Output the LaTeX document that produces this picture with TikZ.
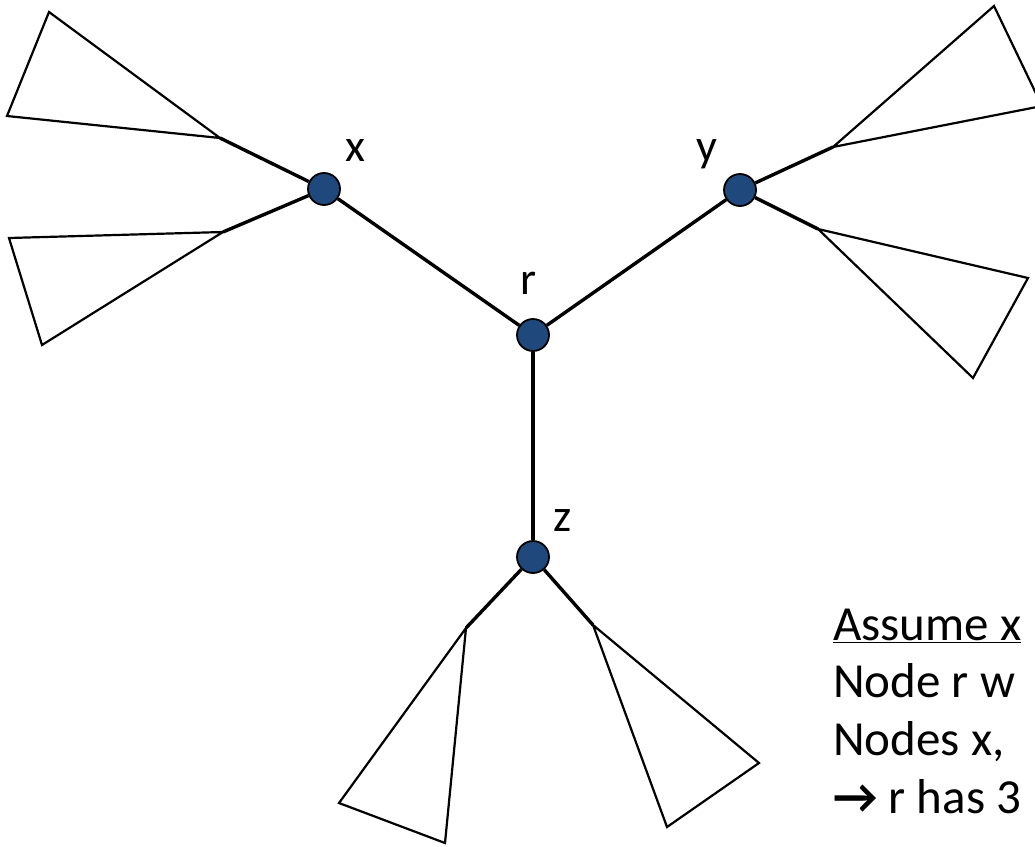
\documentclass[tikz,border=0pt]{standalone}
\usepackage{fontspec}
\setmainfont{Carlito}
\definecolor{nodeblue}{HTML}{1F497D}
\tikzset{
  vert/.style={circle, draw=black, line width=1.8pt, fill=nodeblue, minimum size=32pt, inner sep=0pt},
  treeedge/.style={line width=3.4pt},
  subtree/.style={draw=black, line width=2.2pt, line join=miter},
  lbl/.style={font=\fontsize{46}{52}\selectfont, inner sep=0pt},
  txt/.style={font=\fontsize{49}{56}\selectfont, inner sep=0pt, anchor=base west}
}
\begin{document}
\begin{tikzpicture}[x=1pt,y=-1pt]
\useasboundingbox (0,0) rectangle (1035,846);
\clip (0,0) rectangle (1035,846);
% subtree apexes
\coordinate (a1) at (220,138);
\coordinate (a2) at (223,232);
\coordinate (a3) at (833,147);
\coordinate (a4) at (818,229);
\coordinate (a5) at (466,628);
\coordinate (a6) at (593,625);
% subtrees
\draw[subtree] (a1) -- (49,12) -- (7,116) -- cycle;
\draw[subtree] (a2) -- (9,238) -- (42,345) -- cycle;
\draw[subtree] (a3) -- (994,6) -- (1042,106) -- cycle;
\draw[subtree] (a4) -- (1028,278) -- (973,378) -- cycle;
\draw[subtree] (a5) -- (339,803) -- (445,843) -- cycle;
\draw[subtree] (a6) -- (759,763) -- (667,827) -- cycle;
% vertices
\node[vert] (x) at (324,189) {};
\node[vert] (y) at (740,190) {};
\node[vert] (r) at (533,335) {};
\node[vert] (z) at (533,557) {};
% edges
\draw[treeedge] (x) -- (r);
\draw[treeedge] (y) -- (r);
\draw[treeedge] (r) -- (z);
\draw[treeedge] (x) -- (a1);
\draw[treeedge] (x) -- (a2);
\draw[treeedge] (y) -- (a3);
\draw[treeedge] (y) -- (a4);
\draw[treeedge] (z) -- (a5);
\draw[treeedge] (z) -- (a6);
% labels
\node[lbl] (lx) at (355,151) {x};
\node[lbl] (ly) at (707,154) {y};
\node[lbl] (lr) at (529,283) {r};
\node[lbl] (lz) at (563,521) {z};
% text
\node[txt] (t1) at (833,640) {\underline{Assume x}};
\node[txt] (t2) at (833,697) {Node r w};
\node[txt] (t3) at (833,755) {Nodes x,};
\node[txt] (t4) at (833,813) {{\bfseries →} r has 3};
\end{tikzpicture}
\end{document}
